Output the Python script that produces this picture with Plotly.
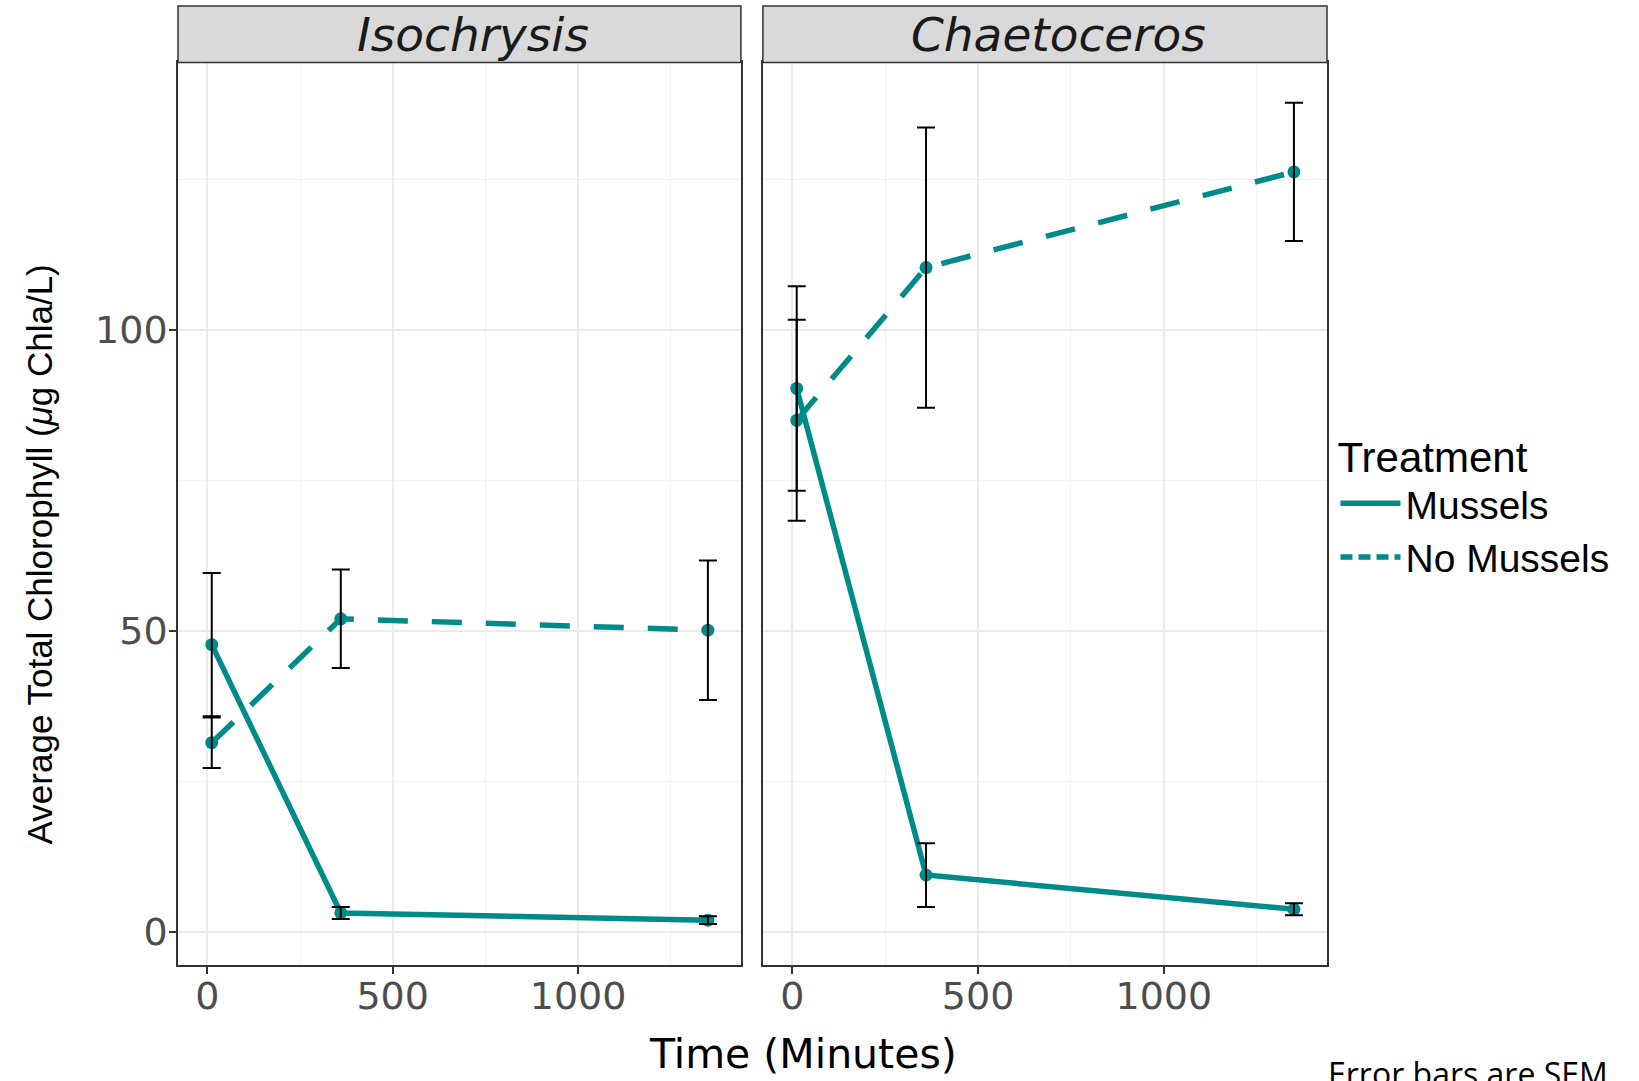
import plotly.graph_objects as go

# ---- data ----
times = [12, 360, 1350]
panels = ["Isochrysis", "Chaetoceros"]
treatments = ["Mussels", "No Mussels"]
iso_mussels = [47.7, 3.1, 1.9]
iso_mussels_sem = [11.9, 1.0, 0.65]
iso_nomussels = [31.4, 52.0, 50.1]
iso_nomussels_sem = [4.2, 8.2, 11.6]
chae_mussels = [90.3, 9.4, 3.7]
chae_mussels_sem = [17.0, 5.3, 1.0]
chae_nomussels = [85.0, 110.4, 126.3]
chae_nomussels_sem = [16.7, 23.3, 11.5]
x_ticks = [0, 500, 1000]
y_ticks = [0, 50, 100]

TEAL = "#008B8B"
DASH = "30px,24px"
W, H = 1639, 1081
ml, mr, mt, mb = 177.7, 311.5, 6.3, 116.2
pw, ph = W - ml - mr, H - mt - mb

def px_x(p):
    return (p - ml) / pw

def px_y(p):
    return (H - mb - p) / ph

ytop = px_y(62.7)
d1 = [0, px_x(741.0)]
d2 = [px_x(763.0), 1]

fig = go.Figure()

series = [
    ("x", "y", iso_mussels, iso_mussels_sem, iso_nomussels, iso_nomussels_sem),
    ("x2", "y2", chae_mussels, chae_mussels_sem, chae_nomussels, chae_nomussels_sem),
]
for xa, ya, m, ms, n, ns in series:
    fig.add_trace(go.Scatter(x=times, y=m, xaxis=xa, yaxis=ya, mode="lines+markers",
                             line=dict(color=TEAL, width=5.5), marker=dict(color=TEAL, size=13),
                             showlegend=False))
    fig.add_trace(go.Scatter(x=times, y=n, xaxis=xa, yaxis=ya, mode="lines+markers",
                             line=dict(color=TEAL, width=5.5, dash=DASH), marker=dict(color=TEAL, size=13),
                             showlegend=False))
for xa, ya, m, ms, n, ns in series:
    for vals, errs in ((m, ms), (n, ns)):
        fig.add_trace(go.Scatter(x=times, y=vals, xaxis=xa, yaxis=ya, mode="markers",
                                 marker=dict(size=1, opacity=0),
                                 error_y=dict(type="data", array=errs, visible=True,
                                              color="black", thickness=2, width=9),
                                 showlegend=False, hoverinfo="skip"))

# legend-only traces
fig.add_trace(go.Scatter(x=[None], y=[None], mode="lines", name=treatments[0],
                         line=dict(color=TEAL, width=5.5)))
fig.add_trace(go.Scatter(x=[None], y=[None], mode="lines", name=treatments[1],
                         line=dict(color=TEAL, width=5.5, dash="12px,6px")))

tickfont = dict(family="DejaVu Sans", size=38, color="#4D4D4D")
axis_common = dict(showline=True, mirror=True, linecolor="#333333", linewidth=1.5,
                   showgrid=True, gridcolor="#EBEBEB", gridwidth=2, zeroline=False,
                   ticks="outside", ticklen=7, tickwidth=1.5, tickcolor="#333333",
                   tickfont=tickfont)
xcommon = dict(axis_common, range=[-79, 1439], tickvals=x_ticks, ticklabelstandoff=-10,
               minor=dict(dtick=250, tick0=0, showgrid=True, gridcolor="#F2F2F2", gridwidth=1))
ycommon = dict(axis_common, range=[-5.56, 144.5], tickvals=y_ticks, domain=[0, ytop],
               ticklabelstandoff=-6,
               minor=dict(dtick=25, tick0=0, showgrid=True, gridcolor="#F2F2F2", gridwidth=1))

fig.update_layout(
    width=W, height=H,
    margin=dict(l=ml, r=mr, t=mt, b=mb),
    paper_bgcolor="white", plot_bgcolor="white",
    xaxis=dict(xcommon, domain=d1, anchor="y"),
    xaxis2=dict(xcommon, domain=d2, anchor="y2"),
    yaxis=dict(ycommon, anchor="x"),
    yaxis2=dict(ycommon, anchor="x2", showticklabels=False, ticks=""),
    legend=dict(x=px_x(1336), y=px_y(417), xanchor="left", yanchor="top",
                title=dict(text="Treatment", font=dict(family="Liberation Sans", size=42, color="black")),
                font=dict(family="Liberation Sans", size=39, color="black"),
                itemwidth=60,
                bgcolor="rgba(0,0,0,0)", tracegroupgap=0),
    showlegend=True,
)

shapes = []
annotations = []
for dom, name in ((d1, panels[0]), (d2, panels[1])):
    shapes.append(dict(type="rect", xref="paper", yref="paper", x0=dom[0], x1=dom[1],
                       y0=ytop, y1=1, fillcolor="#D9D9D9",
                       line=dict(color="#333333", width=1.5), layer="above"))
    annotations.append(dict(text="<i>%s</i>" % name, xref="paper", yref="paper",
                            x=(dom[0] + dom[1]) / 2, y=(ytop + 1) / 2, showarrow=False,
                            xanchor="center", yanchor="middle", xshift=14,
                            font=dict(family="DejaVu Sans", size=47, color="#1A1A1A")))
annotations.append(dict(text="Time (Minutes)", xref="paper", yref="paper",
                        x=px_x(803), y=px_y(1054), showarrow=False, xanchor="center", yanchor="middle",
                        font=dict(family="DejaVu Sans", size=41, color="black")))
annotations.append(dict(text="Average Total Chlorophyll (<i>μ</i>g Chla/L)", xref="paper", yref="paper",
                        x=px_x(40), y=px_y(554), showarrow=False, textangle=-90,
                        xanchor="center", yanchor="middle",
                        font=dict(family="Liberation Sans", size=35, color="black")))
annotations.append(dict(text="Error bars are SEM", xref="paper", yref="paper",
                        x=px_x(1326), y=px_y(1050), showarrow=False, xanchor="left", yanchor="top",
                        font=dict(family="Open Sans", size=32, color="black")))
fig.update_layout(shapes=shapes, annotations=annotations)

fig.write_html("out.html")
